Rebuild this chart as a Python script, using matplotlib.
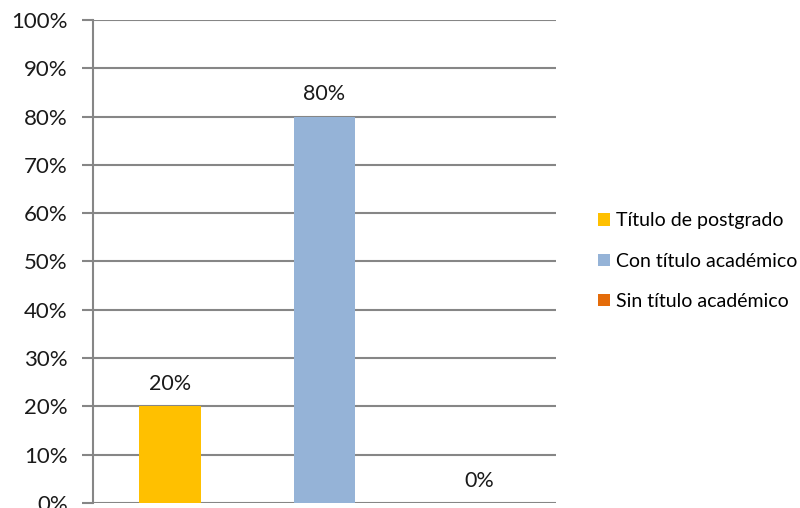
import matplotlib.pyplot as plt
from matplotlib.patches import Patch

# Data
categories = ['Título de postgrado', 'Con título académico', 'Sin título académico']
values = [20, 80, 0]
colors = ['#FFC000', '#95B3D7', '#E46C0A']
yticks = list(range(0, 101, 10))

plt.rcParams['font.family'] = ['Lato', 'DejaVu Sans']

fig = plt.figure(figsize=(8, 5.08), dpi=100)
ax = fig.add_axes([0.116, 0.0098, 0.579, 0.951])

x = list(range(len(categories)))
bars = ax.bar(x, values, width=0.40, color=colors, zorder=3)

for xi, v in zip(x, values):
    ax.text(xi, v + 2.5, '{}%'.format(v), ha='center', va='bottom',
            fontsize=15.5, color='#1a1a1a')

ax.set_xlim(-0.5, len(categories) - 0.5)
ax.set_ylim(0, 100)
ax.set_yticks(yticks)
ax.set_yticklabels(['{}%'.format(t) for t in yticks], fontsize=16, color='#1a1a1a')
ax.set_xticks([])
ax.yaxis.grid(True, color='#868686', linewidth=1.5, zorder=0)
ax.tick_params(axis='y', length=8, width=1.5, color='#868686', pad=10)

for side in ['top', 'right', 'bottom']:
    ax.spines[side].set_visible(False)
ax.spines['left'].set_color('#868686')
ax.spines['left'].set_linewidth(1.5)

handles = [Patch(facecolor=c, edgecolor='none') for c in colors]
fig.legend(handles, categories, loc='center left', bbox_to_anchor=(0.7475, 0.486),
           frameon=False, fontsize=14, handlelength=0.6, handleheight=0.6,
           handletextpad=0.3, labelspacing=1.2, borderpad=0, borderaxespad=0)

fig.savefig('out.png', dpi=100)
